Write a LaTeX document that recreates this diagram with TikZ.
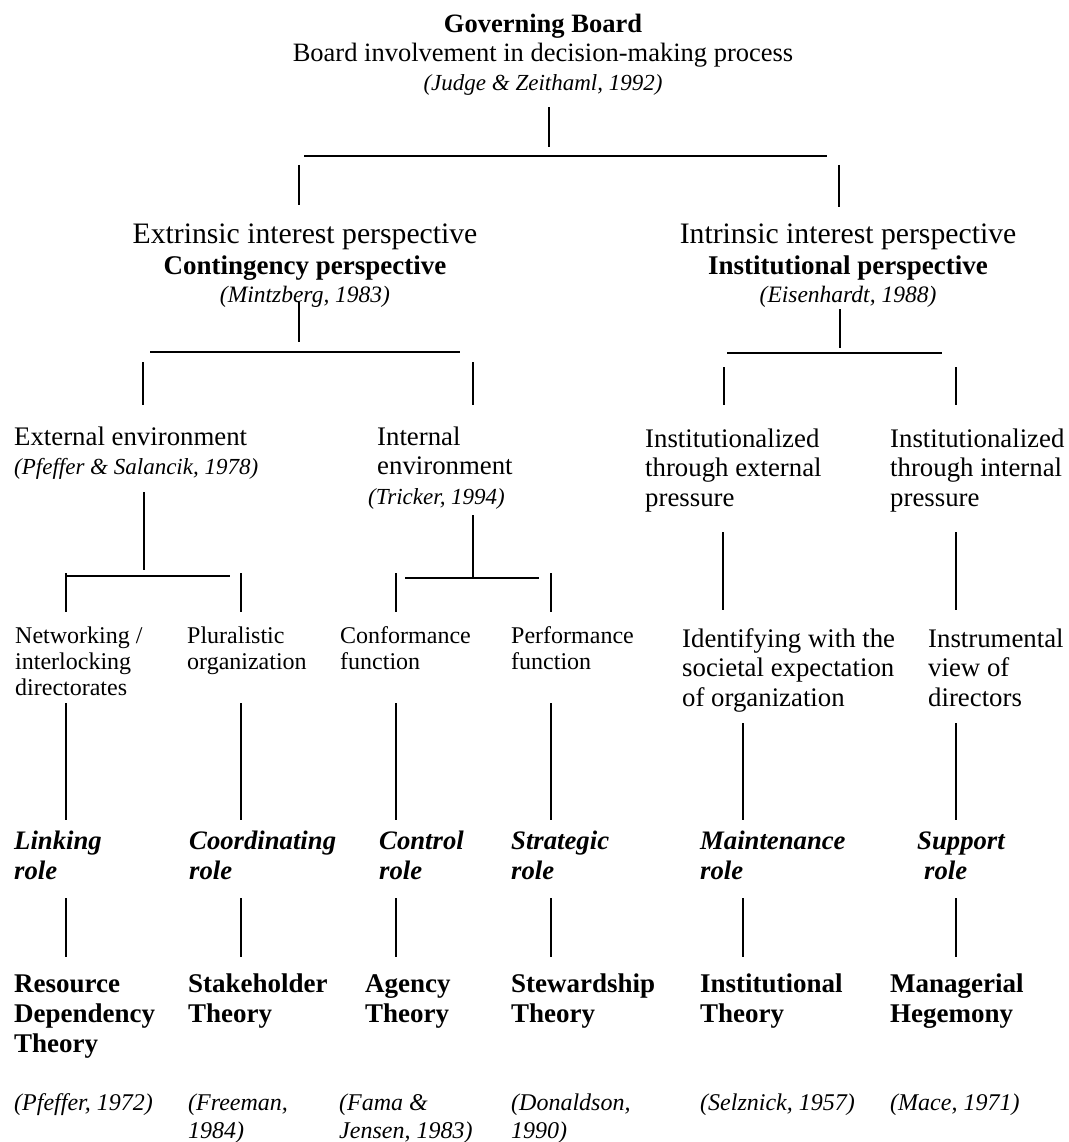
\documentclass[tikz,border=0pt]{standalone}
\usepackage{fontspec}
\setmainfont{Liberation Serif}
\begin{document}
\begin{tikzpicture}[x=1pt, y=-1pt,
    txtbox/.style={inner sep=0pt, align=left, anchor=north west,
        execute at end node=\strut},
    headbox/.style={txtbox, align=center, anchor=north},
    plaintxt/.style={txtbox, font=\fontsize{26.8}{29.5}\selectfont},
    smalltxt/.style={txtbox, font=\fontsize{24}{26}\selectfont},
    roletxt/.style={txtbox, font=\fontsize{26.7}{30}\selectfont\bfseries\itshape},
    theorytxt/.style={txtbox, font=\fontsize{27}{30}\selectfont\bfseries},
    citetxt/.style={txtbox, font=\fontsize{24}{28.5}\selectfont\itshape},
    stemline/.style={line width=2.2pt},
    barline/.style={line width=1.3pt}]
    \useasboundingbox (0,0) rectangle (1068,1142);

    \node[headbox, font=\fontsize{26.5}{29}\selectfont] (gov) at (543,11.7)
        {\strut\textbf{Governing Board}\\Board involvement in decision-making process\\
         {\fontsize{23}{29}\selectfont\itshape (Judge \& Zeithaml, 1992)}};
    \node[headbox, font=\fontsize{29.7}{28}\selectfont] (ext) at (305,223.4)
        {\strut Extrinsic interest perspective\\[3pt]
         {\fontsize{27}{28}\selectfont\bfseries Contingency perspective}\\
         {\fontsize{23.5}{28}\selectfont\itshape (Mintzberg, 1983)}};
    \node[headbox, font=\fontsize{29.7}{28}\selectfont] (intr) at (848,223.4)
        {\strut Intrinsic interest perspective\\[3pt]
         {\fontsize{27}{28}\selectfont\bfseries Institutional perspective}\\
         {\fontsize{23.5}{28}\selectfont\itshape (Eisenhardt, 1988)}};

    \node[plaintxt] (extenv) at (14,424.35)
        {\strut External environment\\{\fontsize{23}{29.5}\selectfont\itshape (Pfeffer \& Salancik, 1978)}};
    \node[plaintxt] (intenv) at (377,424.35)
        {\strut Internal\\environment\\{\fontsize{23}{29.5}\selectfont\itshape\hspace*{-9pt}(Tricker, 1994)}};
    \node[plaintxt] (instext) at (645,426.35) {\strut Institutionalized\\through external\\pressure};
    \node[plaintxt] (insint) at (890,426.35) {\strut Institutionalized\\through internal\\pressure};

    \node[smalltxt] (net) at (15,624.8) {\strut Networking /\\interlocking\\directorates};
    \node[smalltxt] (plu) at (187,624.8) {\strut Pluralistic\\organization};
    \node[smalltxt] (conf) at (340,624.8) {\strut Conformance\\function};
    \node[smalltxt] (perf) at (511,624.8) {\strut Performance\\function};
    \node[plaintxt] (ident) at (682,626.35) {\strut Identifying with the\\societal expectation\\of organization};
    \node[plaintxt] (instr) at (928,626.35) {\strut Instrumental\\view of\\directors};

    \node[roletxt] (link) at (14,828) {\strut Linking\\role};
    \node[roletxt] (coord) at (189,828) {\strut Coordinating\\role};
    \node[roletxt] (ctrl) at (379,828) {\strut Control\\role};
    \node[roletxt] (strat) at (511,828) {\strut Strategic\\role};
    \node[roletxt] (maint) at (700,828) {\strut Maintenance\\role};
    \node[roletxt] (supp) at (917,828) {\strut Support\\\hspace*{7pt}role};

    \node[theorytxt] (rdt) at (14,971) {\strut Resource\\Dependency\\Theory};
    \node[theorytxt] (sht) at (188,971) {\strut Stakeholder\\Theory};
    \node[theorytxt] (agt) at (365,971) {\strut Agency\\Theory};
    \node[theorytxt] (swt) at (511,971) {\strut Stewardship\\Theory};
    \node[theorytxt] (itt) at (700,971) {\strut Institutional\\Theory};
    \node[theorytxt] (mht) at (890,971) {\strut Managerial\\Hegemony};

    \node[citetxt] (rdtref) at (14,1090) {\strut(Pfeffer, 1972)};
    \node[citetxt] (shtref) at (188,1090) {\strut(Freeman,\\1984)};
    \node[citetxt] (agtref) at (339,1090) {\strut(Fama \&\\Jensen, 1983)};
    \node[citetxt] (swtref) at (511,1090) {\strut(Donaldson,\\1990)};
    \node[citetxt] (ittref) at (700,1090) {\strut(Selznick, 1957)};
    \node[citetxt] (mhtref) at (890,1090) {\strut(Mace, 1971)};

    \coordinate (b0) at (549,156);
    \coordinate (a1) at (299,156);
    \coordinate (a2) at (839,156);
    \coordinate (b1) at (299,352);
    \coordinate (e1) at (143,352);
    \coordinate (e2) at (473,352);
    \coordinate (b2) at (840,353);
    \coordinate (e3) at (724,353);
    \coordinate (e4) at (956,353);
    \coordinate (b3) at (144,576);
    \coordinate (b4) at (473,578);
    \coordinate (c1) at (66,573);
    \coordinate (c2) at (241,573);
    \coordinate (c3) at (396,573);
    \coordinate (c4) at (551,573);
    \coordinate (c5) at (743,573);
    \coordinate (c6) at (956,573);
    \coordinate (d5) at (723,573);

    \draw[stemline, shorten <=8.3pt, shorten >=9pt] (gov.south -| b0) -- (b0);
    \draw[barline] ([xshift=-245pt]b0) -- ([xshift=278pt]b0);
    \draw[stemline, shorten <=9pt, shorten >=18.4pt] (a1) -- (ext.north -| a1);
    \draw[stemline, shorten <=9pt, shorten >=16.4pt] (a2) -- (intr.north -| a2);

    \draw[stemline, shorten <=-8.4pt, shorten >=10pt] (ext.south -| b1) -- (b1);
    \draw[barline] ([xshift=-149pt]b1) -- ([xshift=161pt]b1);
    \draw[stemline, shorten <=10pt, shorten >=19.35pt] (e1) -- (extenv.north -| e1);
    \draw[stemline, shorten <=10pt, shorten >=19.35pt] (e2) -- (intenv.north -| e2);

    \draw[stemline, shorten <=-1.4pt, shorten >=5pt] (intr.south -| b2) -- (b2);
    \draw[barline] ([xshift=-113pt]b2) -- ([xshift=102pt]b2);
    \draw[stemline, shorten <=14pt, shorten >=21.35pt] (e3) -- (instext.north -| e3);
    \draw[stemline, shorten <=14pt, shorten >=21.35pt] (e4) -- (insint.north -| e4);

    \draw[stemline, shorten <=8.65pt, shorten >=6pt] (extenv.south -| b3) -- (b3);
    \draw[barline] ([xshift=-77pt]b3) -- ([xshift=86pt]b3);
    \draw[stemline, shorten <=2.15pt, shorten >=1pt] (intenv.south -| b4) -- (b4);
    \draw[barline] ([xshift=-68pt]b4) -- ([xshift=66pt]b4);
    \foreach \col/\dn in {c1/net, c2/plu, c3/conf, c4/perf}
        \draw[stemline, shorten >=12.8pt] (\col) -- (\dn.north -| \col);
    \draw[stemline, shorten <=17.15pt, shorten >=16.35pt] (instext.south -| d5) -- (ident.north -| d5);
    \draw[stemline, shorten <=17.15pt, shorten >=16.35pt] (insint.south -| c6) -- (instr.north -| c6);

    \foreach \up/\dn/\col/\gap in {net/link/c1/0, plu/coord/c2/26.2, conf/ctrl/c3/26.2,
        perf/strat/c4/26.2, ident/maint/c5/8.15, instr/supp/c6/8.15}
        \draw[stemline, shorten <=\gap pt, shorten >=8pt] (\up.south -| \col) -- (\dn.north -| \col);
    \foreach \up/\dn/\col in {link/rdt/c1, coord/sht/c2, ctrl/agt/c3, strat/swt/c4,
        maint/itt/c5, supp/mht/c6}
        \draw[stemline, shorten <=10pt, shorten >=14pt] (\up.south -| \col) -- (\dn.north -| \col);
\end{tikzpicture}
\end{document}
